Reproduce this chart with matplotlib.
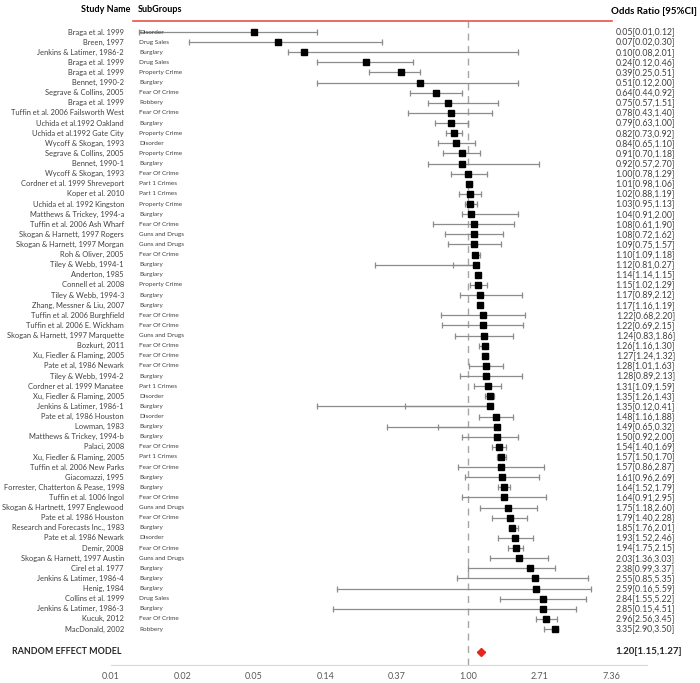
import numpy as np
import matplotlib
matplotlib.use("Agg")
import matplotlib.pyplot as plt
from matplotlib.lines import Line2D
from matplotlib.transforms import blended_transform_factory

plt.rcParams['font.family'] = ['Lato', 'DejaVu Sans']

studies = [
    "Braga et al. 1999", "Breen, 1997", "Jenkins & Latimer, 1986-2", "Braga et al. 1999",
    "Braga et al. 1999", "Bennet, 1990-2", "Segrave & Collins, 2005", "Braga et al. 1999",
    "Tuffin et al. 2006 Failsworth West", "Uchida et al.1992 Oakland", "Uchida et al.1992 Gate City",
    "Wycoff & Skogan, 1993", "Segrave & Collins, 2005", "Bennet, 1990-1", "Wycoff & Skogan, 1993",
    "Cordner et al. 1999 Shreveport", "Koper et al. 2010", "Uchida et al. 1992 Kingston",
    "Matthews & Trickey, 1994-a", "Tuffin et al. 2006 Ash Wharf", "Skogan & Harnett, 1997 Rogers",
    "Skogan & Harnett, 1997 Morgan", "Roh & Oliver, 2005", "Tiley & Webb, 1994-1", "Anderton, 1985",
    "Connell et al. 2008", "Tiley & Webb, 1994-3", "Zhang, Messner & Liu, 2007",
    "Tuffin et al. 2006 Burghfield", "Tuffin et al. 2006 E. Wickham", "Skogan & Harnett, 1997 Marquette",
    "Bozkurt, 2011", "Xu, Fiedler & Flaming, 2005", "Pate et al, 1986 Newark", "Tiley & Webb, 1994-2",
    "Cordner et al. 1999 Manatee", "Xu, Fiedler & Flaming, 2005", "Jenkins & Latimer, 1986-1",
    "Pate et al, 1986 Houston", "Lowman, 1983", "Matthews & Trickey, 1994-b", "Palaci, 2008",
    "Xu, Fiedler & Flaming, 2005", "Tuffin et al. 2006 New Parks", "Giacomazzi, 1995",
    "Forrester, Chatterton & Pease, 1998", "Tuffin et al. 1006 Ingol", "Skogan & Hartnett, 1997 Englewood",
    "Pate et al. 1986 Houston", "Research and Forecasts Inc., 1983", "Pate et al. 1986 Newark",
    "Demir, 2008", "Skogan & Harnett, 1997 Austin", "Cirel et al. 1977", "Jenkins & Latimer, 1986-4",
    "Henig, 1984", "Collins et al. 1999", "Jenkins & Latimer, 1986-3", "Kucuk, 2012", "MacDonald, 2002",
]
subgroups = [
    "Disorder", "Drug Sales", "Burglary", "Drug Sales", "Property Crime", "Burglary", "Fear Of Crime",
    "Robbery", "Fear Of Crime", "Burglary", "Property Crime", "Disorder", "Property Crime", "Burglary",
    "Fear Of Crime", "Part 1 Crimes", "Part 1 Crimes", "Property Crime", "Burglary", "Fear Of Crime",
    "Guns and Drugs", "Guns and Drugs", "Fear Of Crime", "Burglary", "Burglary", "Property Crime",
    "Burglary", "Burglary", "Fear Of Crime", "Fear Of Crime", "Guns and Drugs", "Fear Of Crime",
    "Fear Of Crime", "Fear Of Crime", "Burglary", "Part 1 Crimes", "Disorder", "Burglary", "Disorder",
    "Burglary", "Burglary", "Fear Of Crime", "Part 1 Crimes", "Fear Of Crime", "Burglary", "Burglary",
    "Fear Of Crime", "Guns and Drugs", "Fear Of Crime", "Burglary", "Disorder", "Fear Of Crime",
    "Guns and Drugs", "Burglary", "Burglary", "Burglary", "Drug Sales", "Burglary", "Fear Of Crime",
    "Robbery",
]
odds = [0.05, 0.07, 0.10, 0.24, 0.39, 0.51, 0.64, 0.75, 0.78, 0.79, 0.82, 0.84, 0.91, 0.92, 1.00,
        1.01, 1.02, 1.03, 1.04, 1.08, 1.08, 1.09, 1.10, 1.12, 1.14, 1.15, 1.17, 1.17, 1.22, 1.22,
        1.24, 1.26, 1.27, 1.28, 1.28, 1.31, 1.35, 1.35, 1.48, 1.49, 1.50, 1.54, 1.57, 1.57, 1.61,
        1.64, 1.64, 1.75, 1.79, 1.85, 1.93, 1.94, 2.03, 2.38, 2.55, 2.59, 2.84, 2.85, 2.96, 3.35]
ci_low = [0.01, 0.02, 0.08, 0.12, 0.25, 0.12, 0.44, 0.57, 0.43, 0.63, 0.73, 0.65, 0.70, 0.57, 0.78,
          0.98, 0.88, 0.95, 0.91, 0.61, 0.72, 0.75, 1.09, 0.81, 1.14, 1.02, 0.89, 1.16, 0.68, 0.69,
          0.83, 1.16, 1.24, 1.01, 0.89, 1.09, 1.26, 0.12, 1.16, 0.65, 0.92, 1.40, 1.50, 0.86, 0.96,
          1.52, 0.91, 1.18, 1.40, 1.76, 1.52, 1.75, 1.36, 0.99, 0.85, 0.16, 1.55, 0.15, 2.56, 2.90]
ci_high = [0.12, 0.30, 2.01, 0.46, 0.51, 2.00, 0.92, 1.51, 1.40, 1.00, 0.92, 1.10, 1.18, 2.70, 1.29,
           1.06, 1.19, 1.13, 2.00, 1.90, 1.62, 1.57, 1.18, 0.27, 1.15, 1.29, 2.12, 1.19, 2.20, 2.15,
           1.86, 1.30, 1.32, 1.63, 2.13, 1.59, 1.43, 0.41, 1.88, 0.32, 2.00, 1.69, 1.70, 2.87, 2.69,
           1.79, 2.95, 2.60, 2.28, 2.01, 2.46, 2.15, 3.03, 3.37, 5.35, 5.59, 5.22, 4.51, 3.45, 3.50]

pooled = 1.20
pooled_low = 1.15
pooled_high = 1.27

tick_vals = np.exp(np.arange(-5, 3))
tick_labels = ["0.01", "0.02", "0.05", "0.14", "0.37", "1.00", "2.71", "7.36"]

fig = plt.figure(figsize=(7, 6.83), dpi=100)
W, H = 700, 683
row_h = (629 - 32) / 59
y_top = 21
y_bot = 665
ax = fig.add_axes([111 / W, 1 - y_bot / H, (647 - 111) / W, (y_bot - y_top) / H])
ax.set_xscale("log")
ax.set_xlim(np.exp(-5), np.exp(2.5))
ax.set_ylim((y_bot - 32) / row_h, (y_top - 32) / row_h)

n = len(odds)
ys = np.arange(n)
grey = "#8c8c8c"
# whiskers drawn from the estimate out to each bound, like the original sheet
for y, o, lo, hi in zip(ys, odds, ci_low, ci_high):
    ax.plot([lo, o], [y, y], color=grey, lw=0.9, zorder=2)
    ax.plot([o, hi], [y, y], color=grey, lw=0.9, zorder=2)
ax.plot(ci_low, ys, ls="none", marker="|", ms=4.5, mew=0.9, color=grey, zorder=2)
ax.plot(ci_high, ys, ls="none", marker="|", ms=4.5, mew=0.9, color=grey, zorder=2)
ax.plot(odds, ys, ls="none", marker="s", ms=4.3, color="black", zorder=3)

y_pool = (652 - 32) / row_h
ax.plot([pooled_low, pooled_high], [y_pool, y_pool], color="#f08070", lw=1.2, zorder=2)
ax.plot([pooled], [y_pool], marker="D", ms=4.5, color="#e8231a", zorder=3)

ax.axvline(1, color="#a6a6a6", lw=1, ls=(0, (5, 4)), zorder=1)

for s in ["top", "left", "right"]:
    ax.spines[s].set_visible(False)
ax.spines["bottom"].set_color("#d9d9d9")
ax.set_yticks([])
ax.set_xticks(tick_vals)
ax.set_xticklabels(tick_labels)
ax.minorticks_off()
ax.tick_params(axis="x", length=0, pad=5, labelsize=6.5, labelcolor="#595959")

tr = blended_transform_factory(fig.transFigure, ax.transData)
for y, name, grp, o, lo, hi in zip(ys, studies, subgroups, odds, ci_low, ci_high):
    ax.text(124 / W, y, name, transform=tr, ha="right", va="center", fontsize=5.4, color="#404040")
    ax.text(139 / W, y, grp, transform=tr, ha="left", va="center", fontsize=4.6, color="#404040")
    ax.text(675 / W, y, f"{o:.2f}[{lo:.2f},{hi:.2f}]", transform=tr, ha="right", va="center",
            fontsize=6.3, color="#404040")

ax.text(12 / W, y_pool, "RANDOM EFFECT MODEL", transform=tr, ha="left", va="center",
        fontsize=6.4, fontweight="bold", color="#262626")
ax.text(682 / W, y_pool, f"{pooled:.2f}[{pooled_low:.2f},{pooled_high:.2f}]", transform=tr,
        ha="right", va="center", fontsize=7, fontweight="bold", color="#262626")

fig.text(130 / W, 1 - 10 / H, "Study Name", ha="right", va="center", fontsize=6.5, fontweight="bold")
fig.text(138 / W, 1 - 10 / H, "SubGroups", ha="left", va="center", fontsize=6.5, fontweight="bold")
fig.text(697 / W, 1 - 12 / H, "Odds Ratio [95%CI]", ha="right", va="center", fontsize=7.0,
         fontweight="bold")
fig.add_artist(Line2D([133 / W, 612 / W], [1 - 21 / H, 1 - 21 / H], color="#e8534a", lw=1.2))

fig.savefig("out.png", dpi=100)
